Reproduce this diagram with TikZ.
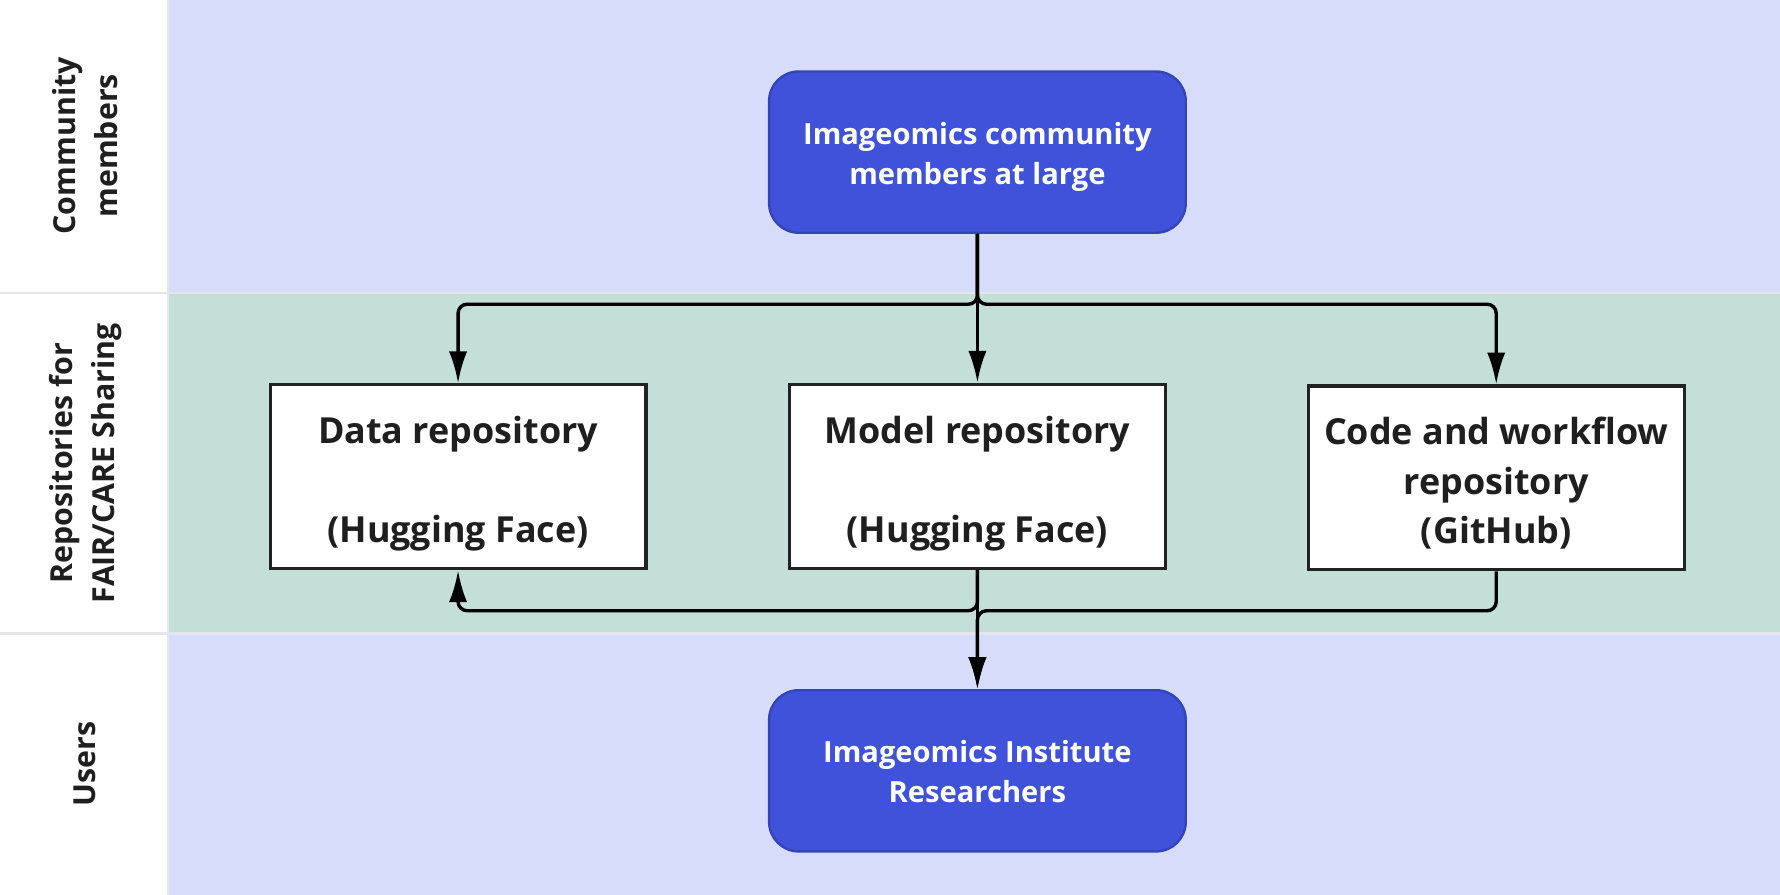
\documentclass[tikz,border=0pt]{standalone}
\usepackage{fontspec}
\setmainfont{Open Sans}
\usepackage{tikz}
\usetikzlibrary{arrows.meta, positioning, calc, shapes}
\definecolor{lanelav}{HTML}{D6DCFA}
\definecolor{lanemint}{HTML}{C3DFD8}
\definecolor{imgblue}{HTML}{3F52D9}
\definecolor{imgblueline}{HTML}{3445B8}
\definecolor{boxline}{HTML}{222222}
\definecolor{sepgray}{HTML}{E4E6EC}
\definecolor{labeltext}{HTML}{1F1F1F}

\tikzset{
  person/.style={draw=imgblueline, fill=imgblue, line width=0.6pt, rounded corners=2.6mm,
    minimum width=3.67cm, minimum height=1.42cm, text=white, align=center,
    font=\fontsize{7.3}{10}\selectfont\bfseries, text height=16pt, text depth=0pt},
  repo/.style={draw=boxline, fill=white, line width=0.8pt,
    minimum width=3.31cm, minimum height=1.62cm, align=center, text=labeltext,
    font=\fontsize{9}{12.4}\selectfont\bfseries, text height=33pt, text depth=0pt},
  flow/.style={-{Latex[length=2.8mm,width=1.6mm]}, line width=0.85pt, rounded corners=0.8mm},
  lanelabel/.style={rotate=90, align=center, text=labeltext,
    font=\fontsize{7.6}{10.5}\selectfont\bfseries},
  sep/.style={draw=sepgray, line width=0.6pt}
}

\begin{document}
\begin{tikzpicture}
\useasboundingbox (0,0) rectangle (15.68,-7.88);
% swimlanes
\fill[white] (0,0) rectangle (15.68,-7.88);
\fill[lanelav]  (1.48,0) rectangle (15.68,-2.58);
\fill[lanemint] (1.48,-2.58) rectangle (15.68,-5.58);
\fill[lanelav]  (1.48,-5.58) rectangle (15.68,-7.88);
\draw[sep] (0,-2.58) -- (15.68,-2.58) (0,-5.58) -- (15.68,-5.58);
\draw[sep] (1.48,0) -- (1.48,-7.88);
\node[lanelabel] (lcomm) at (0.75,-1.285){Community\\members};
\node[lanelabel] (lrepo) at (0.75,-4.08){Repositories for\\FAIR/CARE Sharing};
\node[lanelabel] (luser) at (0.75,-6.73){Users};
% nodes
\node[person] (comm) at (8.61,-1.34){Imageomics community\\members at large};
\node[repo] (data)  at (4.035,-4.20){Data repository\\~\\(Hugging Face)};
\node[repo] (model) at (8.61,-4.195){Model repository\\~\\(Hugging Face)};
\node[repo] (code)  at (13.18,-4.21){Code and workflow\\repository\\(GitHub)};
\node[person] (res) at (8.61,-6.79){Imageomics Institute\\Researchers};
\coordinate (split) at (8.61,-2.68);
\coordinate (merge) at (8.61,-5.38);
% connectors
\draw[flow] (comm.south) -- (model.north);
\draw[flow] (comm.south) -- (split) -| (data.north);
\draw[flow] (comm.south) -- (split) -| (code.north);
\draw[flow] (model.south) -- (res.north);
\draw[flow] (code.south) |- (merge) -- (res.north);
\draw[flow] (model.south) -- (merge) -| (data.south);
\end{tikzpicture}
\end{document}
